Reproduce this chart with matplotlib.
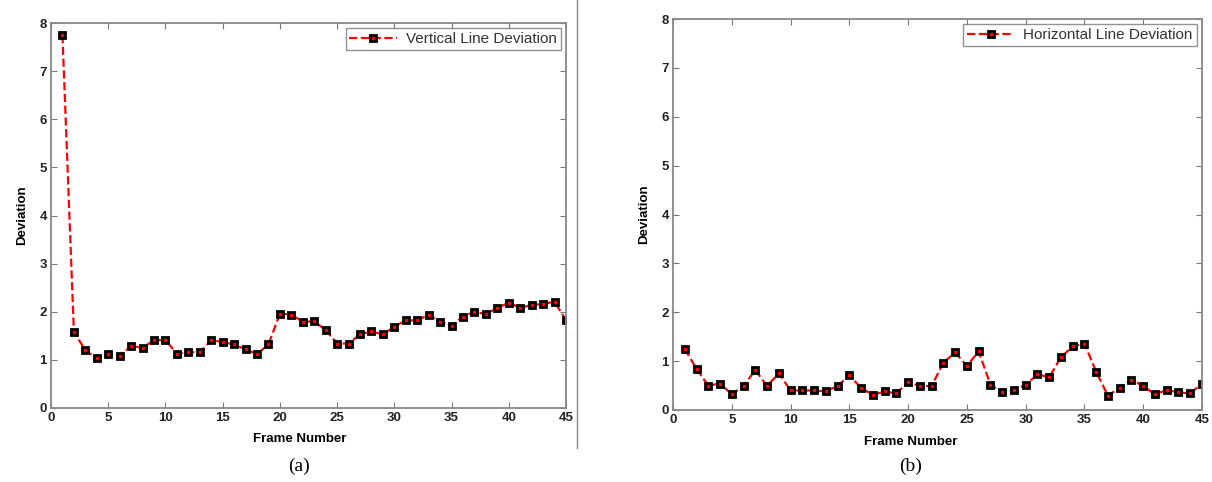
import matplotlib.pyplot as plt
import numpy as np

# ---- data ----
frames = list(range(1, 46))

vertical_dev = [7.75, 1.58, 1.20, 1.03, 1.12, 1.08, 1.29, 1.25, 1.41, 1.41,
                1.13, 1.16, 1.16, 1.41, 1.37, 1.32, 1.22, 1.12, 1.32, 1.96,
                1.94, 1.79, 1.80, 1.62, 1.34, 1.34, 1.53, 1.59, 1.53, 1.69,
                1.82, 1.82, 1.94, 1.79, 1.71, 1.90, 2.00, 1.95, 2.08, 2.19,
                2.08, 2.14, 2.16, 2.21, 1.82]

horizontal_dev = [1.25, 0.84, 0.50, 0.54, 0.32, 0.49, 0.82, 0.49, 0.75, 0.40,
                  0.40, 0.40, 0.38, 0.49, 0.71, 0.45, 0.31, 0.38, 0.34, 0.57,
                  0.49, 0.49, 0.97, 1.18, 0.90, 1.20, 0.52, 0.36, 0.41, 0.51,
                  0.73, 0.67, 1.08, 1.30, 1.36, 0.78, 0.29, 0.46, 0.62, 0.49,
                  0.32, 0.41, 0.36, 0.34, 0.54]

labels = ['Vertical Line Deviation', 'Horizontal Line Deviation']
captions = ['(a)', '(b)']
x_ticks = [0, 5, 10, 15, 20, 25, 30, 35, 40, 45]
y_ticks = [0, 1, 2, 3, 4, 5, 6, 7, 8]

plt.rcParams['font.family'] = ['Liberation Sans', 'DejaVu Sans']

fig = plt.figure(figsize=(12.12, 4.82), dpi=100)

positions = [[51/1212, 74/482, 515/1212, 385/482],
             [673/1212, 72/482, 529/1212, 391/482]]
# x position (axes fraction) of the x-label and caption, shifted left as in the original
label_x = [0.482, 0.45]

for pos, ydata, lab, cap, lx in zip(positions, [vertical_dev, horizontal_dev],
                                    labels, captions, label_x):
    ax = fig.add_axes(pos)
    ax.plot(frames, ydata, linestyle='--', color='red', linewidth=1.6,
            marker='s', markersize=5, markerfacecolor='red',
            markeredgecolor='black', markeredgewidth=2.0, label=lab)
    ax.set_xlim(0, 45)
    ax.set_ylim(0, 8)
    ax.set_xticks(x_ticks)
    ax.set_yticks(y_ticks)
    ax.tick_params(direction='in', top=True, right=True, length=4,
                   color='#777777', labelsize=9.5, pad=3)
    for t in ax.get_xticklabels() + ax.get_yticklabels():
        t.set_fontweight('bold')
        t.set_color('#222222')
    for s in ax.spines.values():
        s.set_color('#888888')
        s.set_linewidth(1.3)
    ax.set_xlabel('Frame Number', fontsize=9.5, fontweight='bold')
    ax.xaxis.set_label_coords(lx, -0.066)
    ax.set_ylabel('Deviation', fontsize=9.5, fontweight='bold', labelpad=8)
    leg = ax.legend(loc='upper right', fontsize=11, fancybox=False,
                    borderaxespad=0.35, handlelength=3.1, borderpad=0.25,
                    handletextpad=0.6, markerscale=0.75)
    leg.get_frame().set_edgecolor('#777777')
    leg.get_frame().set_linewidth(1.0)
    for t in leg.get_texts():
        t.set_color('#333333')
    cx = pos[0] + pos[2] * lx
    fig.text(cx, 16/482, cap, ha='center', va='center', fontsize=14,
             family=['Liberation Serif', 'DejaVu Serif'])

# thin separator line between the panels
fig.add_artist(plt.Line2D([577/1212, 577/1212], [1.0, 34/482],
                          color='#888888', linewidth=1.0))

plt.savefig('out.png', dpi=100)
